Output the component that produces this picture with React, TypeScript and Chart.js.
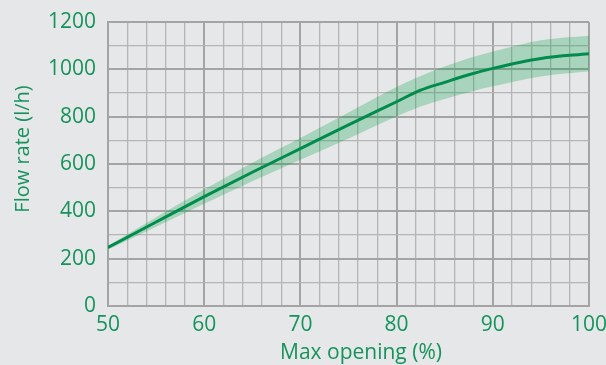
import React, { useEffect, useRef } from "react";
import { Chart, registerables } from "chart.js";

Chart.register(...registerables);

const openings = [50, 55, 60, 65, 70, 75, 80, 82.5, 85, 87.5, 90, 95, 100];
const flowMid = [247, 355, 462, 565, 665, 765, 863, 912, 945, 977, 1004, 1046, 1066];
const flowUpper = [255, 375, 492, 605, 710, 818, 925, 972, 1012, 1047, 1075, 1123, 1142];
const flowLower = [239, 335, 432, 527, 618, 708, 802, 843, 875, 903, 928, 970, 992];

const xTitle = "Max opening (%)";
const yTitle = "Flow rate (l/h)";

const GREEN_TEXT = "#16935d";
const LINE_GREEN = "#008550";
const BAND = "rgba(0,158,70,0.27)";
const BG = "#e6e7e8";
const FONT = "'Open Sans', 'Noto Sans', sans-serif";

const pts = (ys: number[]) => openings.map((x, i) => ({ x, y: ys[i] }));

export default function App() {
  const ref = useRef<HTMLCanvasElement | null>(null);

  useEffect(() => {
    if (!ref.current) return;
    const titlesPlugin = {
      id: "axisTitles",
      afterDraw(chart: any) {
        const ctx = chart.ctx;
        ctx.save();
        ctx.fillStyle = GREEN_TEXT;
        ctx.textAlign = "center";
        ctx.textBaseline = "middle";
        ctx.font = `21px ${FONT}`;
        ctx.fillText(xTitle, 361, 353);
        ctx.font = `20px ${FONT}`;
        ctx.translate(23, 149);
        ctx.rotate(-Math.PI / 2);
        ctx.fillText(yTitle, 0, 0);
        ctx.restore();
      },
    };
    const chart = new Chart(ref.current, {
      type: "line",
      data: {
        datasets: [
          {
            data: pts(flowUpper),
            borderWidth: 0,
            pointRadius: 0,
            backgroundColor: BAND,
            fill: "+1",
            cubicInterpolationMode: "monotone",
          },
          {
            data: pts(flowLower),
            borderWidth: 0,
            pointRadius: 0,
            backgroundColor: BAND,
            fill: false,
            cubicInterpolationMode: "monotone",
          },
          {
            data: pts(flowMid),
            borderColor: LINE_GREEN,
            borderWidth: 3,
            pointRadius: 0,
            fill: false,
            cubicInterpolationMode: "monotone",
          },
        ],
      },
      options: {
        responsive: false,
        animation: false,
        layout: { padding: { top: 22, right: 17, left: 0, bottom: 0 } },
        plugins: { legend: { display: false }, tooltip: { enabled: false } },
        scales: {
          x: {
            type: "linear",
            min: 50,
            max: 100,
            afterFit: (s: any) => {
              s.height = 59;
              s.paddingLeft = 0;
              s.paddingRight = 0;
            },
            ticks: {
              stepSize: 2,
              autoSkip: false,
              maxRotation: 0,
              padding: 6,
              color: GREEN_TEXT,
              font: { family: FONT, size: 21 },
              callback: (v: any) => (Number(v) % 10 === 0 ? String(v) : ""),
            },
            grid: {
              drawTicks: false,
              color: (c: any) => (c.tick && c.tick.value % 10 === 0 ? "#a4a4a4" : "#b5b5b5"),
              lineWidth: (c: any) => (c.tick && c.tick.value % 10 === 0 ? 2 : 1.3),
            },
            border: { display: true, color: "#a4a4a4", width: 2 },
          },
          y: {
            min: 0,
            max: 1200,
            afterFit: (s: any) => {
              s.width = 108;
              s.paddingTop = 0;
              s.paddingBottom = 0;
            },
            ticks: {
              stepSize: 100,
              autoSkip: false,
              padding: 12,
              color: GREEN_TEXT,
              font: { family: FONT, size: 21 },
              callback: (v: any) => (Number(v) % 200 === 0 ? String(v) : ""),
            },
            grid: {
              drawTicks: false,
              color: (c: any) => (c.tick && c.tick.value % 200 === 0 ? "#a4a4a4" : "#b5b5b5"),
              lineWidth: (c: any) => (c.tick && c.tick.value % 200 === 0 ? 2 : 1.3),
            },
            border: { display: true, color: "#a4a4a4", width: 2 },
          },
        },
      },
      plugins: [titlesPlugin],
    } as any);
    return () => chart.destroy();
  }, []);

  return (
    <div style={{ position: "fixed", left: 0, top: 0, width: 606, height: 365, background: BG }}>
      <canvas ref={ref} width={606} height={365} style={{ display: "block" }} />
    </div>
  );
}
